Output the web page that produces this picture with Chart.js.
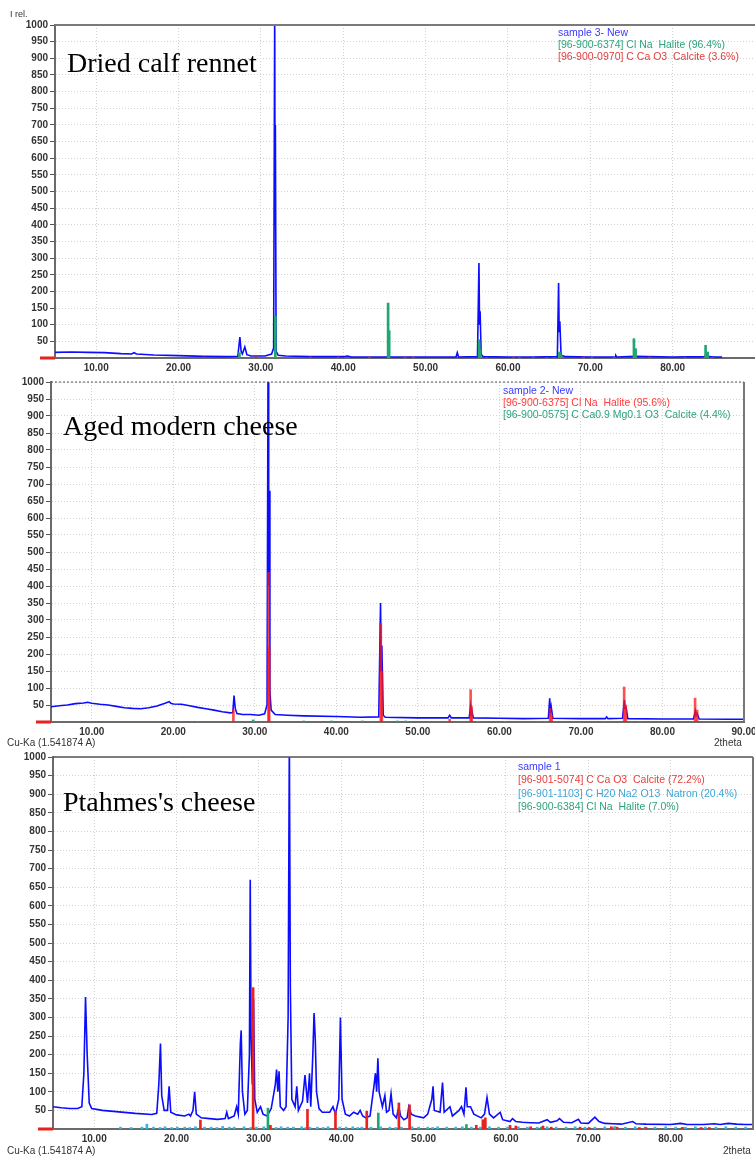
<!DOCTYPE html>
<html>
<head>
<meta charset="utf-8">
<script src="https://cdn.jsdelivr.net/npm/chart.js@4.4.1/dist/chart.umd.min.js"></script>
<style>
  body { margin: 0; width: 755px; height: 1156px; overflow: hidden; background: #fff; position: relative; font-family: "Liberation Sans", Arial, sans-serif; }
  canvas { position: absolute; left: 0; }
  .title { position: absolute; font-family: "Liberation Serif", "Times New Roman", serif; font-size: 28px; line-height: 28px; color: #000; white-space: nowrap; }
  .legend { position: absolute; font-size: 10.5px; line-height: 12px; white-space: nowrap; }
  .small { position: absolute; font-size: 10px; line-height: 12px; color: #333; white-space: nowrap; }
</style>
</head>
<body>
<canvas id="rennetChart" width="755" height="380" style="top:0px"></canvas>
<canvas id="modernChart" width="755" height="372" style="top:372px"></canvas>
<canvas id="ptahmesChart" width="755" height="406" style="top:745px"></canvas>

<div class="small" style="left:10px; top:8px; font-size:9px;">I rel.</div>

<div class="title" style="left:67px; top:49px;">Dried calf rennet</div>
<div class="title" style="left:63px; top:412px;">Aged modern cheese</div>
<div class="title" style="left:63px; top:788px;">Ptahmes's cheese</div>

<div class="legend" style="left:558px; top:26px; color:#3a3aff;">sample 3- New</div>
<div class="legend" style="left:558px; top:38px; color:#2ea27c;">[96-900-6374] Cl Na&nbsp; Halite (96.4%)</div>
<div class="legend" style="left:558px; top:50px; color:#e0403c;">[96-900-0970] C Ca O3&nbsp; Calcite (3.6%)</div>

<div class="legend" style="left:503px; top:384px; color:#3a3aff;">sample 2- New</div>
<div class="legend" style="left:503px; top:396px; color:#ff3c3c;">[96-900-6375] Cl Na&nbsp; Halite (95.6%)</div>
<div class="legend" style="left:503px; top:408px; color:#2ea27c;">[96-900-0575] C Ca0.9 Mg0.1 O3&nbsp; Calcite (4.4%)</div>

<div class="legend" style="left:518px; top:760px; color:#3a3aff;">sample 1</div>
<div class="legend" style="left:518px; top:773px; color:#e8403c;">[96-901-5074] C Ca O3&nbsp; Calcite (72.2%)</div>
<div class="legend" style="left:518px; top:787px; color:#3ea6d8;">[96-901-1103] C H20 Na2 O13&nbsp; Natron (20.4%)</div>
<div class="legend" style="left:518px; top:800px; color:#2ea27c;">[96-900-6384] Cl Na&nbsp; Halite (7.0%)</div>

<div class="small" style="left:7px; top:737px;">Cu-Ka (1.541874 A)</div>
<div class="small" style="left:714px; top:737px;">2theta</div>
<div class="small" style="left:7px; top:1145px;">Cu-Ka (1.541874 A)</div>
<div class="small" style="left:723px; top:1145px;">2theta</div>

<script>
// tick values
const intensityTicks = [50, 100, 150, 200, 250, 300, 350, 400, 450, 500, 550, 600, 650, 700, 750, 800, 850, 900, 950, 1000];
const thetaTicksShort = [10, 20, 30, 40, 50, 60, 70, 80];
const thetaTicksFull = [10, 20, 30, 40, 50, 60, 70, 80, 90];

// Dried calf rennet: measured pattern [2theta, counts]
const rennetPattern = [
  [5.0, 17], [7, 18], [9, 17], [11, 16], [13, 13], [14.3, 12], [14.6, 16], [14.9, 12], [17, 9], [20, 7],
  [23, 5], [26, 4], [27.2, 5], [27.45, 63], [27.6, 20], [27.75, 12], [28.05, 33], [28.3, 10], [28.8, 6],
  [30.5, 6], [31.3, 12], [31.55, 30], [31.68, 1050], [31.72, 400], [31.76, 700], [31.85, 20], [32.1, 8],
  [33, 6], [36, 4], [40, 4], [40.5, 6], [41, 3], [45.3, 3], [45.5, 8], [45.7, 3], [50, 3], [53.7, 3],
  [53.85, 16], [54.0, 3], [56.3, 4], [56.48, 285], [56.55, 100], [56.62, 140], [56.75, 10], [57, 4],
  [60, 3], [63, 3], [66.0, 4], [66.15, 225], [66.22, 80], [66.3, 110], [66.45, 8], [67, 4], [70, 3],
  [73.0, 3], [73.1, 7], [73.2, 3], [75.4, 5], [80, 3], [83.9, 4], [84.05, 10], [84.2, 5], [85, 3], [86, 3]
];
const rennetHalite = [
  [27.4, 16], [31.75, 125], [45.45, 165], [45.58, 82], [56.5, 55], [56.64, 25], [66.25, 18], [66.42, 10],
  [75.3, 58], [75.5, 28], [84.0, 38], [84.25, 18]
];
const rennetCalcite = [
  [23.1, 3], [29.4, 4], [36.0, 3], [39.4, 3], [43.2, 3], [47.5, 3], [48.5, 3], [57.4, 2], [60.7, 3],
  [61.4, 2], [63.1, 2], [64.7, 2], [65.6, 2], [69.2, 3], [70.2, 2], [72.9, 2], [76.3, 2], [77.2, 3],
  [81.5, 2], [83.8, 2], [84.8, 2]
];

// Aged modern cheese
const modernPattern = [
  [5, 45], [6, 48], [7, 50], [8, 54], [9, 56], [9.5, 58], [10, 55], [11, 52], [12, 50], [13, 46], [14, 42],
  [15, 40], [16, 39], [17, 42], [18, 47], [19, 55], [19.5, 60], [19.7, 55], [20, 53], [21, 52], [22, 48],
  [23, 43], [24, 39], [25, 35], [26, 30], [27, 27], [27.3, 28], [27.45, 78], [27.6, 40], [27.8, 25],
  [28.5, 22], [29.5, 22], [30.5, 20], [31.2, 24], [31.5, 50], [31.62, 1050], [31.7, 400], [31.76, 680],
  [31.85, 90], [32.0, 35], [32.5, 22], [34, 20], [36, 18], [40, 16], [43, 14], [45.2, 15], [45.42, 350],
  [45.5, 150], [45.58, 225], [45.75, 20], [46, 14], [50, 12], [53.7, 12], [53.9, 20], [54.1, 12],
  [56.3, 12], [56.45, 45], [56.55, 20], [56.62, 32], [56.8, 12], [60, 11], [63, 10], [66.0, 11],
  [66.17, 70], [66.25, 30], [66.35, 45], [66.55, 11], [70, 10], [73.0, 10], [73.15, 15], [73.3, 10],
  [75.1, 11], [75.33, 65], [75.42, 40], [75.52, 45], [75.75, 10], [80, 9], [83.8, 9], [84.03, 32],
  [84.12, 20], [84.25, 25], [84.5, 9], [88, 8], [90, 8]
];
const modernHalite = [
  [27.37, 35], [31.68, 440], [31.76, 220], [45.45, 290], [45.58, 150], [53.9, 8], [56.47, 95], [56.6, 45],
  [66.22, 40], [66.4, 20], [75.3, 103], [75.5, 50], [84.0, 70], [84.25, 35]
];
const modernCalcite = [
  [23.0, 2], [29.8, 6], [36.0, 3], [39.4, 3], [43.2, 3], [47.5, 3], [48.5, 3], [57.4, 2], [60.7, 2],
  [64.7, 2], [65.6, 2], [72.9, 2], [77.2, 2], [81.5, 2], [83.8, 2]
];

// Ptahmes's cheese
const ptahmesPattern = [
  [5, 60], [6, 57], [7, 55], [8, 55], [8.5, 60], [8.75, 150], [8.95, 355], [9.15, 200], [9.4, 70], [9.7, 55],
  [11, 50], [13, 46], [15, 42], [17, 39], [17.6, 42], [17.85, 120], [18.05, 230], [18.2, 90], [18.5, 50],
  [18.9, 50], [19.1, 115], [19.3, 45], [20, 38], [21, 35], [21.5, 40], [21.7, 35], [22, 50], [22.2, 100],
  [22.4, 40], [23, 30], [24, 28], [25, 26], [25.9, 28], [26.1, 45], [26.3, 28], [27.0, 35], [27.3, 60],
  [27.5, 40], [27.75, 230], [27.85, 265], [28.0, 100], [28.3, 40], [28.6, 50], [28.85, 200], [28.95, 670],
  [29.05, 250], [29.2, 120], [29.35, 350], [29.5, 80], [29.8, 45], [30.2, 60], [30.5, 40], [31.0, 35],
  [31.5, 55], [32.0, 120], [32.15, 160], [32.3, 100], [32.45, 155], [32.6, 60], [33.0, 50], [33.3, 60],
  [33.55, 300], [33.7, 1050], [33.82, 380], [34.0, 80], [34.4, 60], [34.6, 115], [34.8, 50], [35.3, 75],
  [35.6, 145], [35.9, 70], [36.0, 100], [36.15, 150], [36.3, 60], [36.55, 200], [36.7, 312], [36.85, 240],
  [37.0, 100], [37.3, 55], [37.7, 45], [38.2, 45], [38.6, 45], [39.0, 60], [39.3, 40], [39.7, 80],
  [39.9, 300], [40.1, 80], [40.5, 40], [41.0, 35], [41.5, 45], [42.0, 40], [42.3, 50], [42.6, 35],
  [43.0, 30], [43.5, 35], [44.0, 120], [44.15, 150], [44.3, 100], [44.45, 190], [44.6, 100], [45.0, 60],
  [45.3, 90], [45.5, 45], [45.8, 50], [46.05, 95], [46.3, 40], [46.7, 30], [47.0, 60], [47.2, 35],
  [47.6, 25], [48.0, 30], [48.2, 60], [48.5, 40], [49, 35], [50, 30], [50.5, 40], [51.0, 80], [51.15, 115],
  [51.3, 50], [52, 45], [52.3, 125], [52.5, 45], [53.2, 60], [53.5, 35], [54.3, 50], [54.6, 60], [54.9, 40],
  [55.15, 112], [55.3, 60], [55.7, 60], [56.1, 40], [57.0, 30], [57.4, 40], [57.7, 85], [58.0, 40],
  [58.5, 30], [59.3, 45], [59.6, 25], [60.5, 20], [60.8, 28], [61.2, 20], [62, 18], [63, 17], [64, 16],
  [65.0, 25], [65.4, 18], [66.2, 22], [66.5, 28], [67, 18], [68, 17], [68.8, 26], [69.1, 16], [70, 15],
  [70.8, 32], [71.3, 20], [72, 15], [73, 14], [74, 13], [75.4, 20], [75.8, 14], [77, 13], [80, 12],
  [81.2, 15], [82, 12], [84, 12], [85.3, 14], [86, 12], [87, 15], [88, 13], [89, 12], [90, 12]
];
const ptahmesCalcite = [
  [22.9, 24], [29.3, 380], [31.4, 10], [35.9, 53], [39.3, 48], [43.1, 48], [47.0, 70], [48.3, 65],
  [56.4, 10], [57.2, 25], [57.5, 30], [60.5, 10], [61.2, 8], [63.0, 6], [64.5, 8], [65.5, 5], [69.0, 5],
  [70.1, 4], [72.8, 6], [73.5, 5], [76.2, 4], [77.0, 4], [81.4, 4], [83.7, 4], [84.7, 4]
];
const ptahmesNatron = [
  [13.2, 5], [14.5, 4], [15.8, 5], [16.4, 13], [17.2, 5], [18.0, 4], [18.6, 6], [19.4, 4], [20.1, 5],
  [21.0, 5], [21.6, 4], [22.3, 6], [23.4, 5], [24.2, 5], [24.9, 4], [25.6, 7], [26.4, 5], [27.0, 5],
  [28.2, 6], [29.0, 4], [29.7, 5], [30.6, 6], [31.4, 5], [32.1, 4], [32.7, 6], [33.5, 5], [34.2, 5],
  [35.2, 6], [35.7, 4], [36.2, 5], [37.1, 5], [37.8, 4], [38.4, 6], [39.8, 5], [40.6, 5], [41.4, 6],
  [42.0, 4], [42.5, 5], [43.6, 5], [44.8, 6], [45.9, 5], [46.6, 4], [47.3, 5], [48.6, 6], [49.4, 5],
  [50.5, 5], [51.1, 4], [51.7, 6], [52.8, 5], [53.9, 5], [54.7, 6], [55.8, 5], [56.9, 5], [58.0, 6],
  [59.1, 5], [60.2, 5], [61.5, 6], [62.6, 5], [63.8, 5], [65.0, 6], [66.1, 5], [67.3, 5], [68.4, 6],
  [69.6, 5], [70.8, 5], [72.0, 6], [73.3, 5], [74.5, 5], [75.7, 6], [76.9, 5], [78.1, 5], [79.4, 6],
  [80.6, 5], [81.8, 5], [83.0, 6], [84.2, 5], [85.5, 5], [86.7, 6], [87.9, 5], [89.1, 5]
];
const ptahmesHalite = [
  [31.1, 56], [44.5, 43], [55.2, 12], [64.3, 5], [73.2, 6], [81.5, 4]
];

const toPoints = (pairs) => pairs.map(([x, y]) => ({ x, y }));

const patternSet = (pairs) => ({
  type: "line",
  data: toPoints(pairs),
  borderColor: "#0c0cff",
  borderWidth: 1.6,
  pointRadius: 0,
  tension: 0,
  order: 2
});

const stickSet = (pairs, color) => ({
  type: "bar",
  data: toPoints(pairs),
  backgroundColor: color,
  borderWidth: 0,
  barThickness: 2,
  grouped: false,
  order: 1
});

// draws the top / right frame lines and the little red origin marker
const framePlugin = {
  id: "frame",
  afterDatasetsDraw(chart, args, opts) {
    const { ctx, chartArea: a } = chart;
    ctx.save();
    if (opts.top) {
      ctx.strokeStyle = opts.top.color;
      ctx.lineWidth = opts.top.width;
      ctx.setLineDash(opts.top.dash || []);
      ctx.beginPath();
      ctx.moveTo(a.left, a.top);
      ctx.lineTo(a.right, a.top);
      ctx.stroke();
    }
    if (opts.right) {
      ctx.strokeStyle = opts.right.color;
      ctx.lineWidth = opts.right.width;
      ctx.setLineDash([]);
      ctx.beginPath();
      ctx.moveTo(a.right, a.top);
      ctx.lineTo(a.right, a.bottom);
      ctx.stroke();
    }
    ctx.fillStyle = "#e8231e";
    ctx.fillRect(a.left - 15, a.bottom - 1.5, 15, 3);
    ctx.restore();
  }
};

const tickFont = { family: "Liberation Sans", size: 10, weight: "bold" };

function makePanel(id, panel) {
  const ctx = document.getElementById(id).getContext("2d");
  return new Chart(ctx, {
    type: "line",
    data: { datasets: panel.datasets },
    plugins: [framePlugin],
    options: {
      responsive: false,
      animation: false,
      devicePixelRatio: 1,
      layout: { padding: { left: 0, top: panel.top, right: panel.right, bottom: 0 } },
      plugins: {
        legend: { display: false },
        tooltip: { enabled: false },
        frame: panel.frame
      },
      scales: {
        x: {
          type: "linear",
          min: 5,
          max: 90,
          offset: false,
          afterBuildTicks: (s) => { s.ticks = panel.xTicks.map((v) => ({ value: v })); },
          afterFit: (s) => { s.height = 22; s.paddingLeft = 0; s.paddingRight = 0; },
          ticks: { autoSkip: false, maxRotation: 0, padding: 4, color: "#333", font: tickFont, callback: (v) => Number(v).toFixed(2) },
          grid: { color: "#d2d2d2", drawTicks: false, offset: false },
          border: { color: "#6a6a6a", width: 2, dash: [1, 2] }
        },
        y: {
          type: "linear",
          min: 0,
          max: 1000,
          afterBuildTicks: (s) => { s.ticks = intensityTicks.map((v) => ({ value: v })); },
          afterFit: (s) => { s.width = panel.left; s.paddingTop = 0; s.paddingBottom = 0; },
          ticks: { autoSkip: false, padding: 2, color: "#333", font: tickFont, callback: (v) => String(v) },
          grid: { color: "#d2d2d2", tickColor: "#555", tickLength: 5, tickWidth: 1 },
          border: { color: "#6a6a6a", width: 2, dash: [1, 2] }
        }
      }
    }
  });
}

document.addEventListener("DOMContentLoaded", () => {
  makePanel("rennetChart", {
    left: 55, top: 25, right: 0,
    xTicks: thetaTicksShort,
    frame: { top: { color: "#7a7a7a", width: 2 } },
    datasets: [
      stickSet(rennetHalite, "#1fa672"),
      stickSet(rennetCalcite, "#e8231e"),
      patternSet(rennetPattern)
    ]
  });

  makePanel("modernChart", {
    left: 51, top: 10, right: 11,
    xTicks: thetaTicksFull,
    frame: { top: { color: "#555", width: 1, dash: [2, 2] }, right: { color: "#777", width: 2 } },
    datasets: [
      stickSet(modernHalite, "rgba(255, 20, 20, 0.75)"),
      stickSet(modernCalcite, "#1fa672"),
      patternSet(modernPattern)
    ]
  });

  makePanel("ptahmesChart", {
    left: 53, top: 12, right: 2,
    xTicks: thetaTicksShort,
    frame: { top: { color: "#555", width: 1.5 }, right: { color: "#777", width: 2 } },
    datasets: [
      stickSet(ptahmesCalcite, "#e8231e"),
      stickSet(ptahmesNatron, "#3ab4e0"),
      stickSet(ptahmesHalite, "#1fa672"),
      patternSet(ptahmesPattern)
    ]
  });
});
</script>
</body>
</html>
